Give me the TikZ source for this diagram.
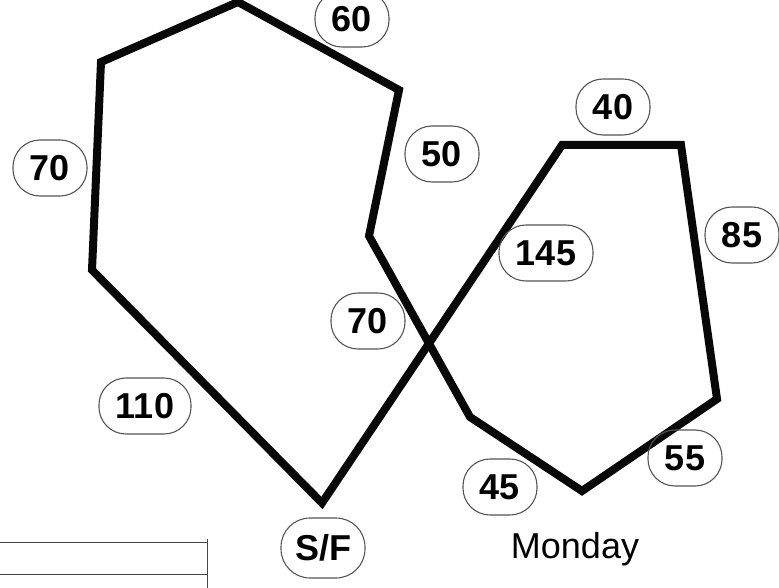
\documentclass[tikz,border=0pt]{standalone}
\usepackage{fontspec}
\setmainfont{Liberation Sans}
\usetikzlibrary{positioning}
\definecolor{routeblack}{RGB}{8,8,8}
\definecolor{ovalgray}{RGB}{85,85,85}
\definecolor{framegray}{RGB}{70,70,70}

\begin{document}
\begin{tikzpicture}[x=1pt,y=-1pt]
\tikzstyle{dist}=[draw=ovalgray,line width=1.1pt,rounded corners=27pt,minimum height=56pt,inner xsep=17pt,font=\fontsize{36}{38}\selectfont\bfseries]
\tikzstyle{route}=[line width=8pt,routeblack,line join=miter]
\useasboundingbox (0,0) rectangle (779,588);
% turning points of the route
\coordinate (sf) at (322,503);
\coordinate (wa) at (92,270);
\coordinate (wb) at (101,62);
\coordinate (wc) at (238,2);
\coordinate (wd) at (399,90);
\coordinate (we) at (369,236);
\coordinate (wf) at (470,417);
\coordinate (wg) at (582,491);
\coordinate (wh) at (717,399);
\coordinate (wi) at (681,145);
\coordinate (wj) at (562,145);
\draw[route] (sf)--(wa)--(wb)--(wc)--(wd)--(we)--(wf)--(wg)--(wh)--(wi)--(wj)--cycle;
% distances
\node[dist] (d60) at (352,19) {60};
\node[dist] (d70a) at (50,168) {70};
\node[dist] (d50) at (442,154) {50};
\node[dist] (d40) at (613,107) {40};
\node[dist] (d85) at (742,235) {85};
\node[dist] (d145) at (546,253) {145};
\node[dist] (d70b) at (368,321) {70};
\node[dist] (d110) at (145,406) {110};
\node[dist] (d55) at (685,458) {55};
\node[dist] (d45) at (500,487) {45};
\node[dist,inner xsep=14pt,minimum height=60pt,rounded corners=29pt] (start) at (323,548) {S/F};
\node[font=\fontsize{36}{38}\selectfont] (day) at (575,549) {Monday};
% cut-off frame, bottom left
\draw[framegray,line width=0.8pt] (0,542)--(207,542) (0,574)--(207,574) (207,539)--(207,588);
\end{tikzpicture}
\end{document}
